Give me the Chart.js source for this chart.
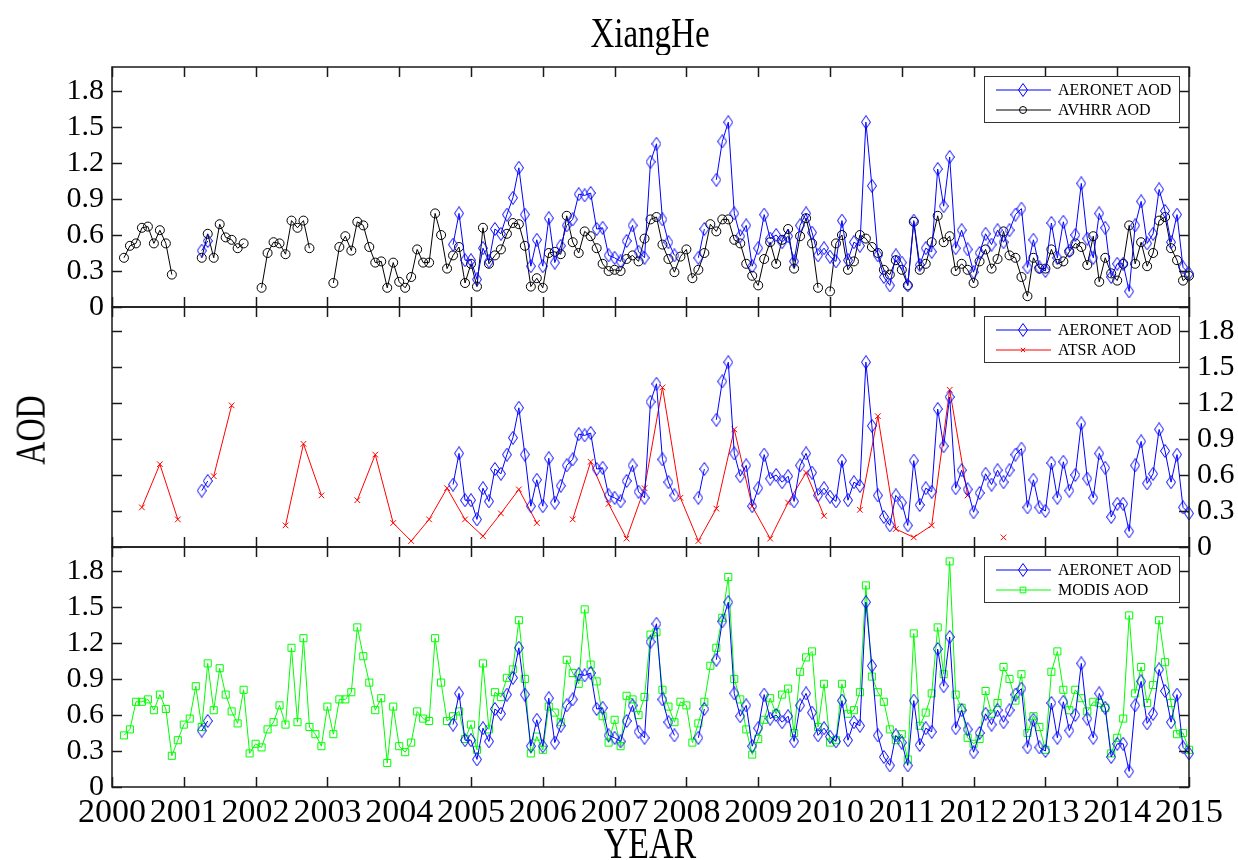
<!DOCTYPE html>
<html>
<head>
<meta charset="utf-8">
<script src="https://cdn.jsdelivr.net/npm/chart.js@4.4.1/dist/chart.umd.min.js"></script>
<style>
  html, body { margin: 0; padding: 0; background: #fff; }
  #wrap { position: relative; width: 1238px; height: 860px; overflow: hidden; font-family: 'Liberation Serif', 'Times New Roman', serif; }
  #wrap canvas { position: absolute; left: 0; top: 0; }
  .lbl { position: absolute; color: #000; white-space: nowrap; text-align: center; line-height: 1; }
  #title { left: 450px; width: 400px; top: 17px; font-size: 33px; transform: scaleY(1.25); }
  #ylab { left: -20px; width: 100px; top: 414px; font-size: 32px; transform: rotate(-90deg) scaleY(1.3); }
  #xlab { left: 550px; width: 200px; top: 827px; font-size: 34px; transform: scaleY(1.3); }
</style>
</head>
<body>
<div id="wrap">
  <canvas id="c_avhrr" width="1238" height="860"></canvas>
  <canvas id="c_atsr" width="1238" height="860"></canvas>
  <canvas id="c_modis" width="1238" height="860"></canvas>
  <div class="lbl" id="title">XiangHe</div>
  <div class="lbl" id="ylab">AOD</div>
  <div class="lbl" id="xlab">YEAR</div>
</div>
<script>
const _ = null

// tick labels
const xTicks = [2000, 2001, 2002, 2003, 2004, 2005, 2006, 2007, 2008, 2009, 2010, 2011, 2012, 2013, 2014, 2015]
const yTicks = [0, 0.3, 0.6, 0.9, 1.2, 1.5, 1.8]

// monthly AOD, one row per year (Jan..Dec), 2000-2014
const aeronet = [
  _, _, _, _, _, _, _, _, _, _, _, _,
  _, _, 0.47, 0.55, _, _, _, _, _, _, _, _,
  _, _, _, _, _, _, _, _, _, _, _, _,
  _, _, _, _, _, _, _, _, _, _, _, _,
  _, _, _, _, _, _, _, _, 0.52, 0.78, 0.39, 0.39,
  0.23, 0.49, 0.38, 0.65, 0.61, 0.77, 0.91, 1.16, 0.77, 0.34, 0.56, 0.34,
  0.74, 0.37, 0.51, 0.68, 0.73, 0.94, 0.93, 0.95, 0.65, 0.66, 0.43, 0.41,
  0.38, 0.55, 0.68, 0.46, 0.41, 1.21, 1.36, 0.73, 0.54, 0.43, _, _,
  _, 0.41, 0.65, _, 1.06, 1.38, 1.54, 0.78, 0.59, 0.68, 0.34, 0.49,
  0.77, 0.57, 0.60, 0.54, 0.59, 0.38, 0.68, 0.78, 0.62, 0.43, 0.49, 0.42,
  0.38, 0.72, 0.39, 0.54, 0.51, 1.54, 1.01, 0.43, 0.25, 0.18, 0.43, 0.37,
  0.18, 0.72, 0.35, 0.49, 0.46, 1.15, 0.84, 1.25, 0.49, 0.64, 0.48, 0.29,
  0.45, 0.61, 0.52, 0.64, 0.54, 0.64, 0.77, 0.82, 0.33, 0.56, 0.33, 0.30,
  0.70, 0.41, 0.71, 0.47, 0.60, 1.03, 0.57, 0.41, 0.78, 0.66, 0.25, 0.36,
  0.36, 0.13, 0.68, 0.88, 0.53, 0.61, 0.98, 0.80, 0.54, 0.77, 0.33, 0.28
]

const avhrr = [
  _, 0.41, 0.51, 0.53, 0.66, 0.67, 0.53, 0.64, 0.53, 0.27, _, _,
  _, _, 0.41, 0.61, 0.41, 0.69, 0.58, 0.56, 0.49, 0.53, _, _,
  0.16, 0.45, 0.54, 0.53, 0.44, 0.72, 0.66, 0.72, 0.49, _, _, _,
  0.20, 0.50, 0.59, 0.47, 0.71, 0.68, 0.50, 0.37, 0.38, 0.16, 0.37, 0.21,
  0.16, 0.25, 0.48, 0.37, 0.37, 0.78, 0.60, 0.32, 0.43, 0.50, 0.20, 0.36,
  0.17, 0.66, 0.36, 0.43, 0.48, 0.61, 0.70, 0.69, 0.51, 0.17, 0.24, 0.16,
  0.45, 0.46, 0.44, 0.76, 0.54, 0.45, 0.63, 0.59, 0.49, 0.36, 0.30, 0.31,
  0.30, 0.40, 0.43, 0.38, 0.57, 0.73, 0.75, 0.52, 0.40, 0.29, 0.42, 0.48,
  0.24, 0.31, 0.45, 0.69, 0.63, 0.73, 0.73, 0.56, 0.53, 0.36, 0.26, 0.18,
  0.40, 0.54, 0.36, 0.56, 0.65, 0.32, 0.59, 0.74, 0.53, 0.16, _, 0.13,
  0.53, 0.60, 0.31, 0.38, 0.60, 0.57, 0.50, 0.45, 0.31, 0.27, 0.39, 0.31,
  0.18, 0.71, 0.31, 0.36, 0.54, 0.76, 0.54, 0.59, 0.30, 0.36, 0.31, 0.20,
  0.38, 0.48, 0.32, 0.40, 0.63, 0.43, 0.41, 0.25, 0.09, 0.41, 0.32, 0.32,
  0.48, 0.36, 0.38, 0.46, 0.53, 0.50, 0.35, 0.59, 0.21, 0.41, 0.28, 0.22,
  0.36, 0.68, 0.36, 0.54, 0.34, 0.45, 0.72, 0.75, 0.49, 0.39, 0.22, 0.26
]

const modis = [
  _, 0.43, 0.48, 0.71, 0.71, 0.73, 0.64, 0.77, 0.65, 0.26, 0.39, 0.52,
  0.57, 0.84, 0.50, 1.03, 0.64, 0.99, 0.77, 0.63, 0.53, 0.81, 0.28, 0.36,
  0.33, 0.48, 0.54, 0.68, 0.52, 1.16, 0.54, 1.24, 0.50, 0.44, 0.34, 0.67,
  0.44, 0.73, 0.73, 0.79, 1.33, 1.09, 0.87, 0.64, 0.74, 0.20, 0.67, 0.34,
  0.29, 0.37, 0.63, 0.57, 0.55, 1.24, 0.87, 0.55, 0.59, 0.63, 0.40, 0.52,
  0.31, 1.03, 0.48, 0.79, 0.75, 0.91, 0.98, 1.39, 0.90, 0.28, 0.42, 0.31,
  0.67, 0.62, 0.54, 1.06, 0.95, 0.86, 1.48, 1.02, 0.88, 0.59, 0.37, 0.56,
  0.34, 0.76, 0.73, 0.60, 0.75, 1.27, 1.29, 0.81, 0.67, 0.54, 0.71, 0.68,
  0.37, 0.53, 0.71, 1.01, 1.16, 1.41, 1.75, 0.90, 0.73, 0.48, 0.27, 0.40,
  0.56, 0.74, 0.61, 0.77, 0.82, 0.45, 0.96, 1.08, 1.13, 0.50, 0.86, 0.37,
  0.39, 0.86, 0.61, 0.64, 0.79, 1.68, 0.92, 0.79, 0.71, 0.48, 0.39, 0.44,
  0.23, 1.28, 0.51, 0.62, 0.78, 1.33, 0.94, 1.88, 0.77, 0.66, 0.41, 0.36,
  0.40, 0.80, 0.61, 0.70, 1.00, 0.90, 0.72, 0.94, 0.45, 0.59, 0.50, 0.31,
  0.96, 1.13, 0.81, 0.64, 0.81, 0.74, 0.63, 0.71, 0.70, 0.66, 0.28, 0.41,
  0.57, 1.43, 0.78, 1.00, 0.70, 0.85, 1.39, 1.04, 0.70, 0.44, 0.45, 0.31
]

// seasonal ATSR AOD (Feb, May, Aug, Nov of each year)
const atsr = [
  _, 0.33, 0.69, 0.23,
  _, 0.59, 1.18, _,
  _, 0.18, 0.86, 0.43,
  _, 0.39, 0.77, 0.20,
  0.05, 0.23, 0.49, 0.23,
  0.09, 0.28, 0.48, 0.20,
  _, 0.23, 0.71, 0.36,
  0.07, 0.49, 1.33, 0.41,
  0.05, 0.32, 0.98, 0.34,
  0.07, 0.37, 0.62, 0.26,
  _, 0.31, 1.09, 0.15,
  0.08, 0.18, 1.31, 0.43,
  _, 0.08, _, _,
  _, _, _, _,
  _, _, _, _
]

// x positions (decimal year) of the monthly and seasonal samples
const monthX = []
for (let y = 2000; y < 2015; y++) for (let m = 1; m <= 12; m++) monthX.push(y + m / 12)
const seasonX = []
for (let y = 2000; y < 2015; y++) for (const m of [2, 5, 8, 11]) seasonX.push(y + m / 12)

function pts(xs, ys){
  return xs.map((x, i) => ({x: x, y: ys[i]}))
}

function diamond(color){
  const c = document.createElement('canvas')
  c.width = 10
  c.height = 14
  const g = c.getContext('2d')
  g.strokeStyle = color
  g.lineWidth = 1
  g.beginPath()
  g.moveTo(5, 0.5)
  g.lineTo(9.5, 7)
  g.lineTo(5, 13.5)
  g.lineTo(0.5, 7)
  g.closePath()
  g.stroke()
  return c
}

const diamondBlue = diamond('#0000ff')
const serif = "'Liberation Serif', 'Times New Roman', serif"

function series(label, xs, ys, color, style, radius, legendRadius){
  return {
    label: label,
    data: pts(xs, ys),
    borderColor: color,
    borderWidth: 1,
    pointStyle: style,
    pointRadius: radius,
    pointBorderColor: color,
    pointBackgroundColor: 'rgba(0,0,0,0)',
    pointBorderWidth: 1,
    legendRadius: legendRadius,
    spanGaps: false,
    tension: 0,
    fill: false,
    clip: 10,
  }
}

const aeronetSet = () => series('AERONET AOD', monthX, aeronet, '#0000ff', diamondBlue, 5, 5)

// box with inward ticks around each panel
const framePlugin = {
  id: 'frame',
  afterDraw(chart){
    const {ctx, chartArea: a} = chart
    const x = chart.scales.x, y = chart.scales.y
    ctx.save()
    ctx.strokeStyle = '#1a1a1a'
    ctx.lineWidth = 1.5
    ctx.strokeRect(a.left, a.top, a.right - a.left, a.bottom - a.top)
    ctx.beginPath()
    xTicks.forEach(v => {
      const px = Math.round(x.getPixelForValue(v)) + 0.5
      ctx.moveTo(px, a.top); ctx.lineTo(px, a.top + 10)
      ctx.moveTo(px, a.bottom); ctx.lineTo(px, a.bottom - 10)
    })
    yTicks.forEach(v => {
      const py = Math.round(y.getPixelForValue(v)) + 0.5
      ctx.moveTo(a.left, py); ctx.lineTo(a.left + 10, py)
      ctx.moveTo(a.right, py); ctx.lineTo(a.right - 10, py)
    })
    ctx.stroke()
    ctx.restore()
  }
}

// legend box in the top right corner of each panel
const legendPlugin = {
  id: 'boxLegend',
  afterDraw(chart){
    const {ctx, chartArea: a} = chart
    const w = 195, h = 46
    const bx = a.right - 10 - w, by = a.top + 9
    ctx.save()
    ctx.fillStyle = '#fff'
    ctx.fillRect(bx, by, w, h)
    ctx.strokeStyle = '#333'
    ctx.lineWidth = 1
    ctx.strokeRect(bx + 0.5, by + 0.5, w, h)
    ctx.font = '16px ' + serif
    ctx.textBaseline = 'middle'
    chart.data.datasets.forEach((ds, i) => {
      const ly = by + 14 + i * 20
      ctx.strokeStyle = ds.borderColor
      ctx.lineWidth = 1
      ctx.beginPath()
      ctx.moveTo(bx + 12, ly)
      ctx.lineTo(bx + 67, ly)
      ctx.stroke()
      ctx.fillStyle = 'rgba(0,0,0,0)'
      Chart.helpers.drawPoint(ctx, {pointStyle: ds.pointStyle, radius: ds.legendRadius, borderWidth: 1, rotation: 0}, bx + 39, ly)
      ctx.fillStyle = '#000'
      ctx.fillText(ds.label, bx + 74, ly + 1)
    })
    ctx.restore()
  }
}

function xScale(showLabels){
  return {
    type: 'linear',
    min: 2000,
    max: 2015,
    display: showLabels,
    afterBuildTicks: s => { s.ticks = xTicks.map(v => ({value: v})) },
    afterFit: s => {
      s.height = showLabels ? 50 : 0
      s.paddingLeft = 0
      s.paddingRight = 0
    },
    grid: {display: false, drawTicks: false},
    border: {display: false},
    ticks: {autoSkip: false, maxRotation: 0, padding: 6, color: '#000', font: {family: serif, size: 34}, callback: v => String(v)}
  }
}

function yScale(position){
  return {
    type: 'linear',
    min: 0,
    max: 2.0,
    position: position,
    afterBuildTicks: s => { s.ticks = yTicks.map(v => ({value: v})) },
    afterFit: s => {
      s.width = position === 'left' ? 50 : 45
      s.paddingTop = 0
      s.paddingBottom = 0
    },
    grid: {display: false, drawTicks: false},
    border: {display: false},
    ticks: {autoSkip: false, padding: 8, color: '#000', font: {family: serif, size: 30}, callback: v => v === 0 ? '0' : v.toFixed(1)}
  }
}

function make_panel(id, datasets, yPos, showX, padding){
  return new Chart(document.getElementById(id), {
    type: 'line',
    data: {datasets: datasets},
    options: {
      responsive: false,
      animation: false,
      events: [],
      layout: {padding: padding},
      scales: {x: xScale(showX), y: yScale(yPos)},
      plugins: {legend: {display: false}, tooltip: {enabled: false}},
    },
    plugins: [framePlugin, legendPlugin]
  })
}

make_panel('c_avhrr', [
  aeronetSet(),
  series('AVHRR AOD', monthX, avhrr, '#000000', 'circle', 4.5, 3.5)
], 'left', false, {left: 62, right: 49, top: 67, bottom: 553})

make_panel('c_atsr', [
  aeronetSet(),
  series('ATSR AOD', seasonX, atsr, '#ff0000', 'crossRot', 4, 3)
], 'right', false, {left: 112, right: 4, top: 307, bottom: 313})

make_panel('c_modis', [
  aeronetSet(),
  series('MODIS AOD', monthX, modis, '#00ff00', 'rect', 5, 4)
], 'left', true, {left: 62, right: 49, top: 547, bottom: 23})
</script>
</body>
</html>
